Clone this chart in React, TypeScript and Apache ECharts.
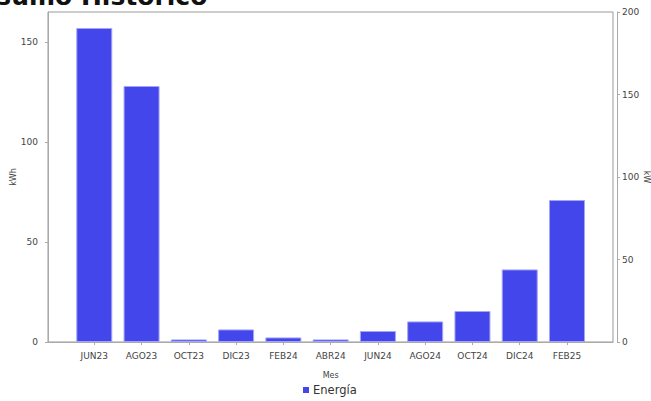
import React, { useEffect, useRef } from "react";
import * as echarts from "echarts";

const categories = ["JUN23", "AGO23", "OCT23", "DIC23", "FEB24", "ABR24", "JUN24", "AGO24", "OCT24", "DIC24", "FEB25"];
const energia = [157, 128, 1.3, 6.3, 2.3, 1.3, 5.5, 10.3, 15.5, 36.3, 71];
const leftTicks = [0, 50, 100, 150];
const titleText = "Consumo Histórico";

export default function App() {
  const ref = useRef<HTMLDivElement>(null);
  useEffect(() => {
    document.body.style.margin = "0";
    document.body.style.overflow = "hidden";
    document.documentElement.style.overflow = "hidden";
    const chart = echarts.init(ref.current!, null, { renderer: "svg", width: 651, height: 401 });
    const font = "DejaVu Sans";
    const labelColor = "#444";
    const axisColor = "#aaa";
    chart.setOption({
      animation: false,
      backgroundColor: "#fff",
      textStyle: { fontFamily: font },
      graphic: [
        {
          type: "text",
          left: -57,
          top: -16,
          style: { text: titleText, font: "bold 25px 'DejaVu Sans'", fill: "#111" },
        },
      ],
      legend: {
        data: ["Energía"],
        bottom: 0,
        left: 298,
        icon: "rect",
        itemWidth: 6,
        itemHeight: 6,
        itemGap: 4,
        itemStyle: { borderWidth: 0 },
        textStyle: { fontSize: 11.5, color: "#333", fontFamily: font, padding: [0, 0, 0, -1] },
      },
      grid: [
        { left: 48, right: 38, top: 12, bottom: 59, show: true, borderColor: "#999", borderWidth: 1, backgroundColor: "#fff", outerBoundsMode: "none", containLabel: false },
        { left: 70.66, width: 519.98, top: 12, bottom: 59, show: false, outerBoundsMode: "none", containLabel: false },
      ],
      xAxis: [
        {
          gridIndex: 0,
          type: "value",
          min: 0,
          max: 1,
          position: "bottom",
          offset: 3,
          axisLine: { show: true, lineStyle: { color: axisColor } },
          axisTick: { show: false },
          axisLabel: { show: false },
          splitLine: { show: false },
        },
        {
          gridIndex: 1,
          type: "category",
          data: categories,
          position: "bottom",
          offset: 3,
          name: "Mes",
          nameLocation: "middle",
          nameGap: 26,
          nameMoveOverlap: false,
          nameTextStyle: { fontSize: 8, color: labelColor, fontFamily: font },
          axisLine: { show: false },
          axisTick: { show: true, alignWithLabel: true, length: 3, lineStyle: { color: axisColor } },
          axisLabel: { fontSize: 9, color: labelColor, margin: 6, fontFamily: font },
        },
      ],
      yAxis: [
        {
          gridIndex: 0,
          type: "value",
          position: "left",
          min: 0,
          max: 165,
          offset: 3,
          name: "kWh",
          nameLocation: "middle",
          nameGap: 28,
          nameRotate: 90,
          nameMoveOverlap: false,
          nameTextStyle: { fontSize: 8, color: labelColor, fontFamily: font },
          axisLine: { show: true, lineStyle: { color: axisColor } },
          axisTick: { show: true, length: 3, customValues: leftTicks, lineStyle: { color: axisColor } },
          axisLabel: { fontSize: 9, color: labelColor, margin: 7, customValues: leftTicks, fontFamily: font },
          splitLine: { show: false },
        },
        {
          gridIndex: 0,
          type: "value",
          position: "right",
          min: 0,
          max: 200,
          interval: 50,
          offset: 4,
          name: "kW",
          nameLocation: "middle",
          nameGap: 25,
          nameRotate: -90,
          nameMoveOverlap: false,
          nameTextStyle: { fontSize: 8, color: labelColor, fontFamily: font },
          axisLine: { show: true, lineStyle: { color: axisColor } },
          axisTick: { show: true, length: 3, lineStyle: { color: axisColor } },
          axisLabel: { fontSize: 9, color: labelColor, margin: 5, fontFamily: font },
          splitLine: { show: false },
        },
        {
          gridIndex: 1,
          type: "value",
          min: 0,
          max: 165,
          show: false,
          splitLine: { show: false },
        },
      ],
      series: [
        {
          name: "Energía",
          type: "bar",
          xAxisIndex: 1,
          yAxisIndex: 2,
          data: energia,
          barWidth: 36,
          itemStyle: { color: "#4346EB", borderColor: "#A4A6F5", borderWidth: 1 },
        },
      ],
    });
    return () => chart.dispose();
  }, []);
  return <div ref={ref} style={{ width: 651, height: 401, position: "fixed", left: 0, top: 0, overflow: "hidden" }} />;
}
